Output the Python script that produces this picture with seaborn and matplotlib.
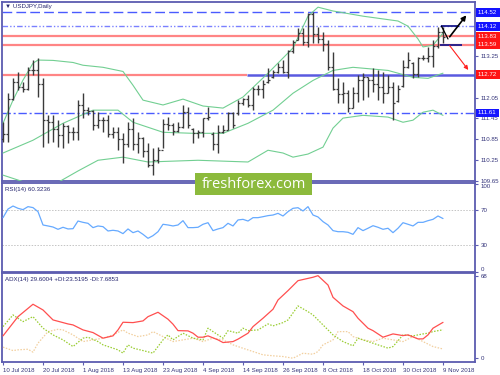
import matplotlib
matplotlib.use("Agg")
import matplotlib.pyplot as plt
import matplotlib.transforms as mtransforms
from matplotlib.patches import Rectangle
import numpy as np
import pandas as pd
import seaborn as sns

# ---------------- data ----------------
date_labels = ['10 Jul 2018', '20 Jul 2018', '1 Aug 2018', '13 Aug 2018', '23 Aug 2018',
               '4 Sep 2018', '14 Sep 2018', '26 Sep 2018', '8 Oct 2018', '18 Oct 2018',
               '30 Oct 2018', '9 Nov 2018']
date_pos = [0, 8, 16, 24, 32, 40, 48, 56, 64, 72, 80, 88]

high = [111.35, 112.19, 112.62, 112.79, 112.50, 112.94, 113.14, 113.19, 112.62, 111.55,
        111.55, 111.41, 111.32, 111.26, 111.21, 111.98, 112.19, 111.78, 111.70, 111.64,
        111.50, 111.55, 111.21, 111.21, 111.03, 111.35, 111.47, 111.06, 110.92, 110.74,
        110.60, 110.62, 111.43, 111.49, 111.32, 111.35, 111.84, 111.78, 111.18, 111.12,
        111.47, 111.78, 111.06, 111.26, 111.26, 111.64, 111.64, 111.98, 112.04, 112.13,
        112.36, 112.42, 112.56, 112.90, 112.85, 113.05, 113.14, 113.42, 113.71, 114.06,
        114.06, 114.50, 114.52, 114.09, 113.94, 113.71, 113.37, 112.62, 112.50, 112.27,
        112.36, 112.70, 112.76, 112.65, 112.90, 112.85, 112.79, 112.70, 112.50, 112.42,
        113.14, 113.37, 113.08, 113.22, 113.28, 113.51, 113.71, 114.09, 114.09]
low = [110.77, 110.77, 111.98, 112.27, 112.21, 112.27, 112.70, 112.07, 110.63, 110.74,
       110.77, 110.63, 110.60, 110.74, 110.83, 110.83, 111.47, 111.55, 111.12, 111.18,
       111.06, 110.92, 110.89, 110.54, 110.17, 110.63, 110.54, 110.46, 110.34, 110.05,
       109.82, 110.17, 110.60, 111.12, 110.97, 111.06, 111.18, 111.18, 110.74, 110.89,
       110.92, 111.41, 110.54, 110.46, 111.03, 111.12, 111.18, 111.55, 111.84, 111.78,
       111.70, 112.13, 112.04, 112.47, 112.62, 112.76, 112.76, 112.62, 113.34, 113.71,
       113.57, 113.51, 113.62, 113.62, 113.40, 112.85, 112.27, 111.90, 111.90, 111.64,
       111.75, 111.93, 111.98, 112.07, 112.21, 111.98, 111.90, 112.18, 111.40, 111.93,
       112.36, 112.90, 112.62, 112.65, 113.14, 113.08, 112.94, 113.48, 113.62]
close = [111.00, 112.00, 112.50, 112.35, 112.30, 112.85, 112.85, 112.45, 111.40, 111.35,
         111.15, 110.98, 111.22, 111.05, 111.05, 111.85, 111.70, 111.68, 111.25, 111.40,
         111.40, 111.00, 111.07, 110.85, 110.72, 111.15, 110.72, 110.88, 110.50, 110.10,
         110.25, 110.55, 111.30, 111.25, 111.10, 111.20, 111.65, 111.25, 111.02, 111.05,
         111.45, 111.50, 110.72, 111.05, 111.12, 111.60, 111.25, 111.90, 112.00, 111.85,
         112.30, 112.30, 112.45, 112.55, 112.78, 112.95, 112.80, 113.40, 113.65, 113.92,
         113.65, 114.48, 113.90, 113.75, 113.60, 112.95, 112.30, 112.15, 112.20, 111.75,
         112.20, 112.55, 112.65, 112.55, 112.45, 112.35, 112.20, 112.35, 111.90, 112.30,
         112.95, 113.15, 112.75, 113.20, 113.20, 113.25, 113.55, 113.95, 113.80]
open_ = [110.85, 111.00, 112.00, 112.50, 112.35, 112.30, 112.85, 112.85, 112.45, 111.40,
         111.35, 111.15, 110.98, 111.22, 111.05, 111.05, 111.85, 111.70, 111.68, 111.25,
         111.40, 111.40, 111.00, 111.07, 110.85, 110.72, 111.15, 110.72, 110.88, 110.50,
         110.10, 110.25, 110.55, 111.30, 111.25, 111.10, 111.20, 111.65, 111.15, 111.02,
         111.05, 111.45, 111.00, 110.72, 111.05, 111.12, 111.60, 111.60, 111.90, 112.00,
         111.85, 112.30, 112.30, 112.50, 112.65, 112.80, 112.95, 112.80, 113.40, 113.72,
         113.92, 113.65, 114.48, 113.90, 113.75, 113.60, 112.95, 112.30, 112.15, 112.20,
         111.75, 112.20, 112.55, 112.65, 112.55, 112.45, 112.35, 112.20, 112.35, 111.95,
         112.40, 112.95, 113.05, 112.75, 113.20, 113.20, 113.25, 113.55, 113.95]

bb_up_x = [0, 2, 4, 6, 7, 10, 14, 16, 20, 24, 26, 28, 32, 36, 40, 44, 48, 53, 58, 61, 63,
           66, 72, 79, 81, 83, 84, 86, 88]
bb_up = [111.31, 111.98, 112.56, 113.05, 113.14, 113.13, 113.07, 112.99, 112.93, 112.81,
         112.41, 111.98, 111.84, 112.01, 111.81, 111.75, 112.07, 112.76, 113.49, 114.41,
         114.67, 114.56, 114.41, 114.27, 114.12, 113.75, 113.52, 113.57, 113.92]
bb_mid_x = [0, 6, 12, 18, 23, 26, 32, 38, 44, 49, 54, 58, 62, 66, 70, 77, 82, 85, 88]
bb_mid = [110.45, 110.82, 111.31, 111.69, 111.69, 111.34, 111.05, 111.02, 111.02, 111.31,
          111.69, 112.18, 112.55, 112.84, 112.93, 112.84, 112.64, 112.61, 112.76]
bb_lo_x = [0, 4, 11, 15, 19, 24, 29, 39, 49, 53, 56, 58, 61, 64, 66, 68, 72, 77, 80, 82,
           84, 86, 88]
bb_lo = [109.81, 109.62, 109.60, 109.93, 110.24, 110.33, 110.19, 110.24, 110.19, 110.53,
         110.45, 110.33, 110.42, 110.62, 111.17, 111.46, 111.54, 111.49, 111.34, 111.40,
         111.63, 111.69, 111.54]

level_lines = {'r1': 114.52, 'r2': 114.12, 'r3': 113.83, 'r4': 113.59, 's1': 112.72, 's2': 111.61}

rsi = [61.3, 71.1, 74.5, 71.9, 70.4, 73.8, 72.7, 68.1, 53.0, 51.9,
       50.7, 48.1, 50.4, 48.5, 48.8, 57.5, 56.0, 54.9, 50.0, 51.9,
       51.1, 46.2, 47.0, 46.2, 43.2, 48.5, 44.3, 46.2, 42.4, 37.9,
       40.9, 45.4, 53.8, 53.0, 51.9, 53.0, 57.9, 50.0, 50.0, 50.4,
       53.8, 55.6, 46.6, 48.5, 50.0, 54.9, 51.9, 58.7, 59.4, 57.5,
       61.3, 61.3, 62.4, 63.6, 64.3, 66.2, 63.2, 68.1, 71.9, 72.6,
       68.9, 73.8, 64.3, 62.1, 56.8, 53.0, 46.6, 45.4, 45.4, 44.7,
       42.4, 50.0, 46.6, 49.3, 52.2, 50.4, 48.1, 49.3, 44.3, 49.3,
       55.6, 53.8, 51.9, 56.0, 56.0, 57.9, 59.4, 63.2, 60.3]

adx_x = [0, 3, 6, 8, 10, 13, 14, 16, 18, 20, 22, 23, 24, 26, 28, 29, 31, 33, 34, 35, 37, 38,
         39, 40, 41, 43, 44, 46, 47, 49, 50, 52, 54, 55, 57, 59, 62, 63, 65, 66, 68, 70, 71,
         73, 74, 76, 78, 80, 81, 83, 84, 85, 86, 88]
adx = [18.5, 34.3, 44.5, 39.8, 31.6, 28.3, 27.5, 23.4, 21.2, 16.6, 18.5, 23.4, 29.7, 29.4,
       30.8, 34.3, 37.9, 32.2, 28.1, 22.8, 22.6, 20.7, 17.4, 17.4, 18.5, 15.2, 13.0, 13.8,
       15.8, 20.7, 26.1, 33.0, 40.4, 48.0, 55.7, 63.9, 66.7, 68.0, 60.3, 50.2, 43.1, 38.4,
       33.0, 24.8, 22.8, 17.4, 20.1, 18.7, 19.3, 16.0, 16.0, 19.3, 24.8, 29.6]
pdi_x = [0, 2, 4, 6, 8, 10, 12, 14, 16, 17, 19, 20, 23, 24, 25, 26, 28, 30, 32, 33, 34, 36,
         38, 40, 41, 42, 44, 45, 47, 48, 49, 51, 53, 54, 56, 57, 59, 61, 62, 64, 66, 68, 70,
         71, 73, 75, 77, 78, 80, 82, 84, 85, 86, 88]
pdi = [26.1, 35.7, 30.2, 34.3, 24.8, 19.3, 15.2, 9.7, 16.6, 17.4, 13.8, 11.1, 7.0, 4.3,
       11.1, 8.4, 6.4, 4.3, 15.2, 19.3, 15.2, 20.7, 16.6, 15.2, 24.8, 22.0, 16.6, 22.8, 20.7,
       24.8, 22.8, 23.4, 28.3, 26.7, 29.4, 31.6, 43.1, 38.4, 35.7, 27.5, 19.3, 13.8, 10.3,
       16.6, 13.8, 11.1, 8.4, 9.7, 19.3, 18.5, 20.1, 20.7, 22.0, 23.5]
mdi_x = [0, 2, 3, 5, 6, 7, 9, 11, 12, 14, 16, 18, 20, 22, 24, 25, 27, 29, 30, 32, 34, 36,
         38, 40, 42, 44, 46, 48, 50, 52, 54, 56, 58, 60, 62, 63, 64, 66, 67, 69, 70, 72, 74,
         76, 78, 80, 82, 84, 86, 88]
mdi = [9.2, 6.4, 7.0, 7.5, 5.1, 12.5, 22.0, 23.9, 23.4, 19.3, 13.8, 15.2, 16.6, 19.3, 23.4,
       20.7, 17.9, 19.3, 22.0, 17.9, 13.8, 15.2, 16.6, 13.8, 16.6, 15.2, 11.1, 8.3, 5.6, 2.9,
       2.1, 1.5, 0.1, 4.2, 3.4, 5.6, 11.1, 15.2, 22.0, 22.0, 17.9, 15.2, 13.8, 16.6, 15.2,
       13.8, 17.9, 13.8, 9.7, 7.7]

# ---------------- style ----------------
sns.set_theme(style="white")
plt.rcParams['font.family'] = ['Liberation Sans', 'DejaVu Sans']

FRAME = '#5c5cb0'
LBL = '#34347a'
FS = 4.4
XMIN, XMAX = -0.2, 94.4

fig = plt.figure(figsize=(5, 3.75), dpi=100)
fig.patch.set_facecolor('white')
L, W = 2 / 500, 473 / 500
ax1 = fig.add_axes([L, 1 - 181 / 375, W, 179 / 375])
ax2 = fig.add_axes([L, 1 - 272 / 375, W, 89 / 375])
ax3 = fig.add_axes([L, 1 - 362 / 375, W, 89 / 375])

for ax in (ax1, ax2, ax3):
    ax.set_facecolor('white')
    for s in ax.spines.values():
        s.set_color(FRAME)
        s.set_linewidth(1.3)
    ax.set_xlim(XMIN, XMAX)
    ax.yaxis.tick_right()
    ax.tick_params(axis='y', which='both', direction='out', length=2.5, width=0.8,
                   color=FRAME, labelsize=FS, labelcolor=LBL, pad=1.5, left=False, right=True)
    ax.tick_params(axis='x', bottom=False, labelbottom=False)
    ax.grid(False)
    ax.set_xlabel('')
    ax.set_ylabel('')

# ---------------- main price panel ----------------
n = len(close)
bars = np.arange(n)
BAR_C = '#3a3a3a'
ax1.vlines(bars, low, high, color=BAR_C, lw=1.0, zorder=4)
ax1.hlines(open_, bars - 0.4, bars, color=BAR_C, lw=0.9, zorder=4)
ax1.hlines(close, bars, bars + 0.4, color=BAR_C, lw=0.9, zorder=4)

BB_C = '#72cf92'
sns.lineplot(x=bb_up_x, y=bb_up, ax=ax1, color=BB_C, lw=0.8, zorder=3)
sns.lineplot(x=bb_mid_x, y=bb_mid, ax=ax1, color=BB_C, lw=0.8, zorder=3)
sns.lineplot(x=bb_lo_x, y=bb_lo, ax=ax1, color=BB_C, lw=0.8, zorder=3)

RED_L = '#ff8585'
ax1.axhline(level_lines['r1'], color='#4a5bff', lw=1.0, ls=(0, (7, 3)), zorder=2)
ax1.axhline(level_lines['r2'], color='#7a80ff', lw=1.0, ls=(0, (4, 1.5, 1, 1.5, 1, 1.5)), zorder=2)
ax1.axhline(level_lines['r3'], color=RED_L, lw=1.6, zorder=2)
ax1.axhline(level_lines['r4'], color=RED_L, lw=1.6, zorder=2)
ax1.hlines(level_lines['s1'], XMIN, 48.8, color=RED_L, lw=1.6, zorder=2)
ax1.hlines(level_lines['s1'], 48.8, XMAX, color='#5a5ae0', lw=1.8, zorder=2)
ax1.axhline(level_lines['s2'], color='#4a5bff', lw=1.0, ls=(0, (6, 2, 1.5, 2)), zorder=2)

# scenario marks
ax1.hlines(level_lines['r2'], 87.6, 91.2, color='#1a1a8c', lw=1.3, zorder=5)
ax1.hlines(level_lines['r4'], 87.4, 91.8, color='#1a1a8c', lw=1.3, zorder=5)
ax1.plot([87.7, 89.0], [level_lines['r2'], 113.75], color='black', lw=0.9, zorder=6)
ax1.annotate('', xy=(93.0, level_lines['r1'] - 0.02), xytext=(89.0, 113.75),
             arrowprops=dict(arrowstyle='-|>', color='black', lw=1.2, mutation_scale=7), zorder=6)
ax1.annotate('', xy=(93.4, level_lines['s1'] + 0.07), xytext=(89.0, 113.62),
             arrowprops=dict(arrowstyle='-|>', color='#ff2020', lw=0.8, mutation_scale=6), zorder=6)

ax1.set_ylim(109.64, 114.82)
price_ticks = [109.65, 110.25, 110.85, 111.45, 112.05, 112.65, 113.25, 113.85, 114.45]
hidden = {112.65, 113.85, 114.45}   # covered by the level boxes in the reference
ax1.set_yticks(price_ticks)
ax1.set_yticklabels(['' if v in hidden else f'{v:.2f}' for v in price_ticks])

trans = mtransforms.blended_transform_factory(ax1.transAxes, ax1.transData)
for key, col in [('r1', '#1414ff'), ('r2', '#1414ff'), ('r3', '#ff1414'),
                 ('r4', '#ff1414'), ('s1', '#ff1414'), ('s2', '#1414ff')]:
    v = level_lines[key]
    ax1.text(1.006, v, f'{v:.2f} ', transform=trans, ha='left', va='center', fontsize=FS,
             color='white', bbox=dict(boxstyle='square,pad=0.3', fc=col, ec='none'),
             clip_on=False, zorder=10)

# ---------------- RSI panel ----------------
sns.lineplot(x=bars, y=rsi, ax=ax2, color='#66aaff', lw=0.9, zorder=3)
for lv in (70, 30):
    ax2.axhline(lv, color='#c4c4c4', lw=0.7, ls=(0, (1.5, 1.5)), zorder=2)
ax2.set_ylim(-0.3, 100.6)
ax2.set_yticks([0, 30, 70, 100])
ax2.set_yticklabels(['0', '30', '70', '100'])
for t in ax2.get_yticklabels():
    if t.get_text() == '100':
        t.set_va('top')
    elif t.get_text() == '0':
        t.set_va('bottom')

# ---------------- ADX panel ----------------
sns.lineplot(x=mdi_x, y=mdi, ax=ax3, color='#f2cf9e', lw=0.9, ls=(0, (1.2, 1.2)), zorder=3)
sns.lineplot(x=pdi_x, y=pdi, ax=ax3, color='#9acd32', lw=0.9, ls=(0, (1.2, 1.2)), zorder=3)
sns.lineplot(x=adx_x, y=adx, ax=ax3, color='#ff4f4f', lw=0.9, zorder=4)
ax3.set_ylim(-3.0, 70.2)
ax3.set_yticks([0, 68])
ax3.set_yticklabels(['0', '68'])
ax3.set_xticks(date_pos)
ax3.set_xticklabels(date_labels)
ax3.tick_params(axis='x', bottom=True, labelbottom=True, direction='out', length=2.5,
                width=0.8, color=FRAME, labelsize=FS, labelcolor=LBL, pad=1.5)
for t in ax3.get_xticklabels():
    t.set_ha('left')
for ax in (ax1, ax2, ax3):
    ax.set_xlim(XMIN, XMAX)

# ---------------- texts ----------------
TT = '#24246e'
fig.text(5 / 500, 1 - 6.5 / 375, '▼ USDJPY,Daily', fontsize=FS, color=TT, va='center', ha='left')
fig.text(5 / 500, 1 - 189 / 375, 'RSI(14) 60.3236', fontsize=FS, color=TT, va='center', ha='left')
fig.text(5 / 500, 1 - 279 / 375, 'ADX(14) 29.6004 +DI:23.5195 -DI:7.6853', fontsize=FS,
         color=TT, va='center', ha='left')

fig.add_artist(Rectangle((195 / 500, 1 - 195 / 375), 117 / 500, 22 / 375,
                         transform=fig.transFigure, fc='#8cba3c', ec='none', zorder=20))
fig.text(253.5 / 500, 1 - 184.5 / 375, 'freshforex.com', fontsize=10.5, family='Open Sans',
         color='white', ha='center', va='center', zorder=21)

fig.savefig('out.png', dpi=100, facecolor='white')
